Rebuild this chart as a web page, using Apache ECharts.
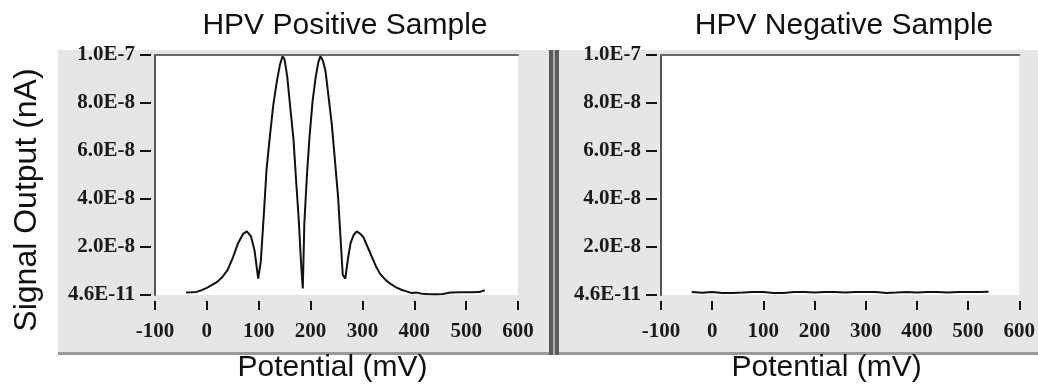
<!DOCTYPE html>
<html>
<head>
<meta charset="utf-8">
<script src="https://cdn.jsdelivr.net/npm/echarts@6/dist/echarts.min.js"></script>
<style>
html,body{margin:0;padding:0;background:#fff;}
#chart{width:1038px;height:388px;}
</style>
</head>
<body>
<div id="chart"></div>
<script>
// ---- data ----
const xTicks = [-100, 0, 100, 200, 300, 400, 500, 600];
const yTickLabels = ['4.6E-11', '2.0E-8', '4.0E-8', '6.0E-8', '8.0E-8', '1.0E-7'];

const posPotential = [-40,-30,-20,-10,0,10,20,30,40,50,60,70,77,85,92,99,104,110,115,122,128,135,141,146,150,155,160,167,172,177,182,185,188,193,198,204,210,215,219,224,229,235,241,247,253,258,262,267,272,277,283,289,296,302,310,318,326,334,345,355,365,375,385,395,405,415,425,440,455,470,490,510,525,536];
const posSignal = [0.10e-8,0.11e-8,0.13e-8,0.20e-8,0.30e-8,0.42e-8,0.55e-8,0.75e-8,1.05e-8,1.55e-8,2.15e-8,2.55e-8,2.65e-8,2.45e-8,1.85e-8,0.68e-8,1.40e-8,3.40e-8,5.20e-8,6.70e-8,7.90e-8,8.90e-8,9.60e-8,9.95e-8,9.80e-8,9.10e-8,8.00e-8,6.50e-8,4.80e-8,3.20e-8,1.20e-8,0.27e-8,3.00e-8,5.00e-8,6.60e-8,8.10e-8,9.10e-8,9.70e-8,9.95e-8,9.75e-8,9.30e-8,8.20e-8,7.10e-8,5.60e-8,4.10e-8,2.30e-8,0.85e-8,0.68e-8,1.50e-8,2.15e-8,2.50e-8,2.65e-8,2.55e-8,2.40e-8,2.00e-8,1.60e-8,1.20e-8,0.88e-8,0.62e-8,0.45e-8,0.32e-8,0.22e-8,0.15e-8,0.08e-8,0.10e-8,0.05e-8,0.04e-8,0.03e-8,0.04e-8,0.10e-8,0.11e-8,0.11e-8,0.12e-8,0.20e-8];

const negPotential = [-40,-20,0,20,40,60,80,100,120,140,160,180,200,220,240,260,280,300,320,340,360,380,400,420,440,460,480,500,520,540];
const negSignal = [0.12e-8,0.09e-8,0.12e-8,0.08e-8,0.08e-8,0.10e-8,0.13e-8,0.12e-8,0.08e-8,0.08e-8,0.12e-8,0.13e-8,0.10e-8,0.12e-8,0.12e-8,0.10e-8,0.13e-8,0.12e-8,0.12e-8,0.08e-8,0.10e-8,0.13e-8,0.10e-8,0.12e-8,0.12e-8,0.10e-8,0.12e-8,0.13e-8,0.12e-8,0.14e-8];

const titles = ['HPV Positive Sample', 'HPV Negative Sample'];
const xName = 'Potential (mV)';
const yName = 'Signal Output (nA)';

// ---- chart ----
const chart = echarts.init(document.getElementById('chart'));
const sansFont = 'Liberation Sans';
const serifFont = 'Liberation Serif';
const tickStyle = {fontFamily: serifFont, fontSize: 21, fontWeight: 'bold', color: '#1a1a1a'};

function pairs(xs, ys){ return xs.map((x,i)=>[x, ys[i]]); }
function yLabel(v){ return yTickLabels[Math.round(v/2e-8)]; }

const grids = [
  {left:155, top:55, width:363, height:245},
  {left:661, top:55, width:362, height:245}
];

const xAxes = [], yAxes = [];
grids.forEach((g, gi) => {
  // bottom ticks + labels
  xAxes.push({
    gridIndex: gi, type:'value', min:-100, max:600, interval:100, position:'bottom', offset:6,
    axisLine:{show:false, onZero:false}, splitLine:{show:false},
    axisTick:{show:true, length:9, lineStyle:{color:'#111', width:2}},
    axisLabel:{...tickStyle, margin:20},
    name: xName, nameLocation:'middle', nameGap:52,
    nameTextStyle:{fontFamily:sansFont, fontSize:30, color:'#111', padding: gi===0 ? [0,8,0,0] : [0,27,0,0]}
  });
  // top border line
  xAxes.push({
    gridIndex: gi, type:'value', min:-100, max:600, position:'top',
    axisLine:{show:true, onZero:false, lineStyle:{color:'#6a6a6a', width:2}},
    axisTick:{show:false}, axisLabel:{show:false}, splitLine:{show:false}
  });
  // left axis line
  yAxes.push({
    gridIndex: gi, type:'value', min:0, max:1e-7, interval:2e-8, position:'left',
    axisLine:{show:true, onZero:false, lineStyle:{color:'#555', width:2}},
    axisTick:{show:false}, axisLabel:{show:false}, splitLine:{show:false},
    name: gi===0 ? yName : '', nameLocation:'middle', nameGap:112, nameRotate:90,
    nameTextStyle:{fontFamily:sansFont, fontSize:32, color:'#111', padding:[0,50,0,0]}
  });
  // offset ticks + labels
  yAxes.push({
    gridIndex: gi, type:'value', min:0, max:1e-7, interval:2e-8, position:'left', offset:4,
    axisLine:{show:false, onZero:false}, splitLine:{show:false},
    axisTick:{show:true, length:11, lineStyle:{color:'#111', width:2}},
    axisLabel:{...tickStyle, margin:16, formatter: yLabel}
  });
});

const option = {
  animation:false,
  backgroundColor:'#fff',
  title: [
    {text: titles[0], left: 340, top: 6, textAlign:'center', textStyle:{fontFamily:sansFont, fontSize:30, fontWeight:'normal', color:'#111'}},
    {text: titles[1], left: 839, top: 6, textAlign:'center', textStyle:{fontFamily:sansFont, fontSize:30, fontWeight:'normal', color:'#111'}}
  ],
  graphic: [
    {type:'rect', z:-100, shape:{x:58, y:50, width:491, height:302}, style:{fill:'#e6e6e6'}},
    {type:'rect', z:-100, shape:{x:559, y:50, width:479, height:302}, style:{fill:'#e6e6e6'}},
    {type:'rect', z:-100, shape:{x:58, y:352, width:491, height:3}, style:{fill:'#9a9a9a'}},
    {type:'rect', z:-100, shape:{x:559, y:352, width:479, height:3}, style:{fill:'#9a9a9a'}},
    {type:'rect', z:-100, shape:{x:549, y:50, width:4, height:305}, style:{fill:'#5a5a5a'}},
    {type:'rect', z:-100, shape:{x:553, y:50, width:2, height:305}, style:{fill:'#b0b0b0'}},
    {type:'rect', z:-100, shape:{x:555, y:50, width:4, height:305}, style:{fill:'#5a5a5a'}}
  ],
  grid: grids.map(g => ({...g, show:true, backgroundColor:'#fff', borderWidth:0})),
  xAxis: xAxes,
  yAxis: yAxes,
  series: [
    {type:'line', xAxisIndex:0, yAxisIndex:0, data: pairs(posPotential, posSignal), showSymbol:false, lineStyle:{color:'#111', width:2}},
    {type:'line', xAxisIndex:2, yAxisIndex:2, data: pairs(negPotential, negSignal), showSymbol:false, lineStyle:{color:'#111', width:2}}
  ]
};
chart.setOption(option);
</script>
</body>
</html>
